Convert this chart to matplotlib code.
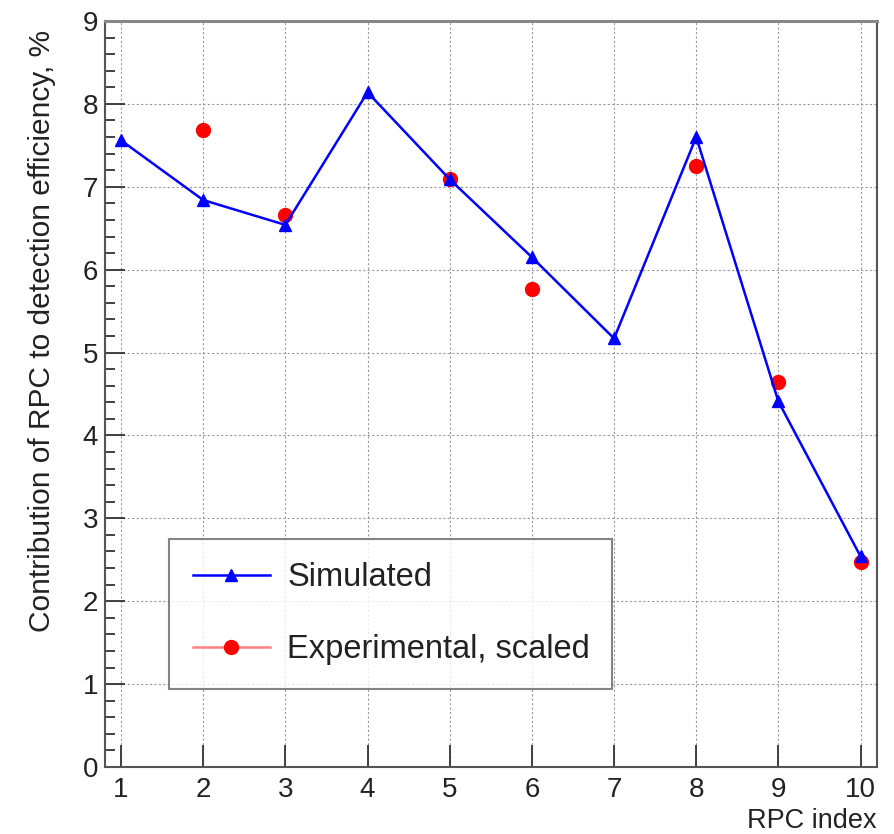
import matplotlib
matplotlib.use("Agg")
import matplotlib.pyplot as plt
from matplotlib.lines import Line2D
from matplotlib.ticker import MultipleLocator

plt.rcParams['font.family'] = ['Liberation Sans', 'DejaVu Sans']

rpc_index = [1, 2, 3, 4, 5, 6, 7, 8, 9, 10]
simulated = [7.56, 6.84, 6.54, 8.14, 7.09, 6.15, 5.17, 7.60, 4.41, 2.54]
exp_index = [2, 3, 5, 6, 8, 9, 10]
experimental = [7.68, 6.66, 7.09, 5.77, 7.25, 4.64, 2.47]

fig = plt.figure(figsize=(8.94, 8.34), dpi=100)
ax = fig.add_axes([105/894, 1-767/834, (877-105)/894, (767-21)/834])

ax.plot(rpc_index, simulated, color='#0000ff', lw=1.8, marker='^', ms=9,
        zorder=3)
ax.plot(exp_index, experimental, ls='none', marker='o', ms=10,
        color='#ff0000', zorder=2)

ax.set_xlim(0.805, 10.2)
ax.set_ylim(0, 9)
ax.xaxis.set_major_locator(MultipleLocator(1))
ax.yaxis.set_major_locator(MultipleLocator(1))
ax.yaxis.set_minor_locator(MultipleLocator(0.2))

ax.grid(True, which='major', color='#999999', ls=(0, (2, 2)), lw=0.8)
ax.set_axisbelow(True)

ax.tick_params(axis='both', which='both', direction='in', colors='#333333',
               labelcolor='#222222', width=1.3)
ax.tick_params(axis='x', which='major', length=16, pad=7, labelsize=20,
               top=False)
ax.tick_params(axis='y', which='major', length=14.4, pad=5, labelsize=20,
               right=False)
ax.tick_params(axis='y', which='minor', length=7.2, right=False)

for s in ax.spines.values():
    s.set_color('#555555')
    s.set_linewidth(1.5)
ax.spines['top'].set_linewidth(2.2)
ax.spines['top'].set_color('#888888')

fig.text(42/894, 1-30/834, 'Contribution of RPC to detection efficiency, %',
         rotation=90, ha='center', va='top', fontsize=21.5, color='#222222')
fig.text(877/894, 1-828/834, 'RPC index', ha='right', va='baseline',
         fontsize=19.5, color='#222222')

handles = [
    Line2D([], [], color='#0000ff', lw=1.8, marker='^', ms=9),
    Line2D([], [], color='#ff8080', lw=1.8, marker='o', ms=10,
           markerfacecolor='#ff0000', markeredgecolor='#ff0000'),
]
leg_top = (767-539)/(767-21)
leg = ax.legend(handles, ['Simulated', 'Experimental, scaled'],
                loc='upper left',
                bbox_to_anchor=((169-105)/(877-105), leg_top - 0.01,
                                (612-169)/(877-105), 0.01),
                mode='expand', fontsize=23.5, frameon=True, fancybox=False,
                handlelength=2.36, handletextpad=0.55, labelspacing=1.25,
                borderpad=0.72, borderaxespad=0)
leg.get_frame().set_edgecolor('#666666')
leg.get_frame().set_linewidth(1.5)
for t in leg.get_texts():
    t.set_color('#222222')

fig.savefig('out.png', dpi=100)
